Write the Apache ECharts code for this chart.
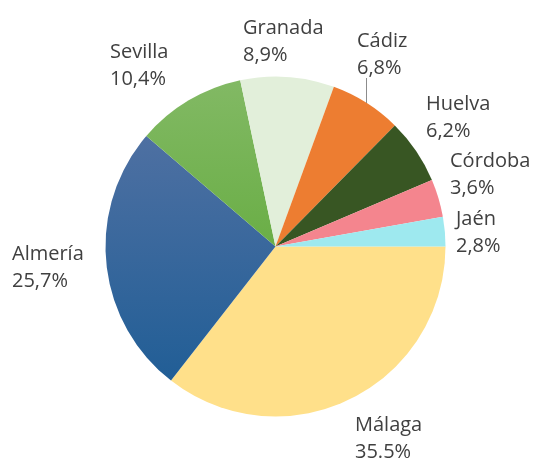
<!DOCTYPE html>
<html>
<head>
<meta charset="utf-8">
<script src="https://cdn.jsdelivr.net/npm/echarts@6/dist/echarts.min.js"></script>
<style>
  html, body { margin: 0; padding: 0; background: #fff; }
  #chart { width: 539px; height: 459px; }
</style>
</head>
<body>
<div id="chart"></div>
<script>
// datos
var provincias = ['Málaga', 'Almería', 'Sevilla', 'Granada', 'Cádiz', 'Huelva', 'Córdoba', 'Jaén']
var porcentajes = [35.5, 25.7, 10.4, 8.9, 6.8, 6.2, 3.6, 2.8]
var etiquetas = ['35.5%', '25,7%', '10,4%', '8,9%', '6,8%', '6,2%', '3,6%', '2,8%']

// estilo de cada porción
var colores = [
  '#FFE08A',
  new echarts.graphic.LinearGradient(0, 0, 0, 1, [{ offset: 0, color: '#4E70A2' }, { offset: 1, color: '#215E96' }]),
  new echarts.graphic.LinearGradient(0, 0, 0, 1, [{ offset: 0, color: '#82B964' }, { offset: 1, color: '#6AAE46' }]),
  '#E2EFDA',
  '#ED7D31',
  '#385623',
  '#F4858E',
  '#9EE9EF'
]
// posición de las etiquetas (esquina superior izquierda)
var posEtiquetas = [
  [355, 412], [12, 241], [110, 39], [243, 15], [357, 28], [426, 91], [450, 148], [456, 206]
]
var centro = [275.5, 246.5]
var radio = 170

// línea guía de Cádiz: vertical desde el borde de la porción (punto medio) hasta la etiqueta
var iCadiz = provincias.indexOf('Cádiz')
var total = porcentajes.reduce(function(a, b) { return a + b }, 0)
var acum = 0
for (var k = 0; k < iCadiz; k++) acum += porcentajes[k]
var angMedio = (acum + porcentajes[iCadiz] / 2) / total * Math.PI * 2 // horario desde las 3
var lx = Math.round(centro[0] + radio * Math.cos(angMedio))
var ly = centro[1] + radio * Math.sin(angMedio)
var yTope = posEtiquetas[iCadiz][1] + 50

var chart = echarts.init(document.getElementById('chart'))
chart.setOption({
  animation: false,
  textStyle: { fontFamily: 'Open Sans' },
  graphic: [{
    type: 'rect',
    left: lx,
    top: yTope,
    z: 100,
    shape: { x: 0, y: 0, width: 1, height: Math.round(ly - yTope) },
    style: { fill: '#8c8c8c' }
  }],
  series: [{
    type: 'pie',
    center: centro,
    radius: radio,
    startAngle: 0,
    clockwise: true,
    avoidLabelOverlap: false,
    label: {
      show: true,
      position: 'outside',
      color: '#404040',
      fontSize: 20,
      lineHeight: 27,
      align: 'left',
      formatter: function(p) { return p.name + '\n' + etiquetas[p.dataIndex] }
    },
    labelLine: { show: false },
    labelLayout: function(p) {
      var pos = posEtiquetas[p.dataIndex]
      return { x: pos[0], y: pos[1], align: 'left', verticalAlign: 'top' }
    },
    data: provincias.map(function(n, i) {
      return { name: n, value: porcentajes[i], itemStyle: { color: colores[i] } }
    })
  }]
})
</script>
</body>
</html>
